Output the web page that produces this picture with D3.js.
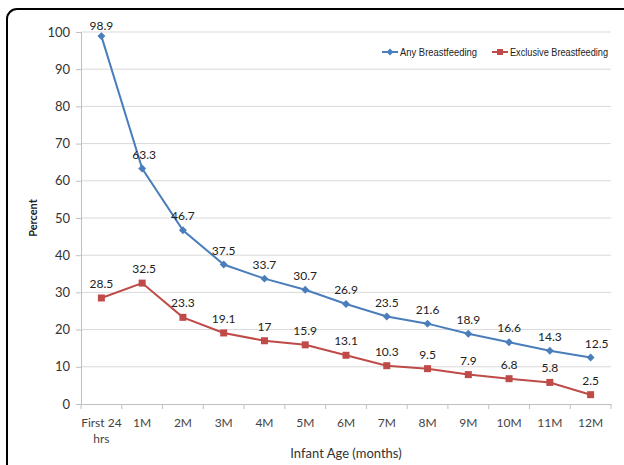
<!DOCTYPE html>
<html><head><meta charset="utf-8">
<script src="https://cdn.jsdelivr.net/npm/d3@7"></script>
<style>body{margin:0;background:#fff}svg{display:block}</style>
</head><body><svg id="c" width="624" height="465"></svg>
<script>
const categories = ["First 24 hrs","1M","2M","3M","4M","5M","6M","7M","8M","9M","10M","11M","12M"];
const anyBF = [98.9,63.3,46.7,37.5,33.7,30.7,26.9,23.5,21.6,18.9,16.6,14.3,12.5];
const exclusiveBF = [28.5,32.5,23.3,19.1,17,15.9,13.1,10.3,9.5,7.9,6.8,5.8,2.5];
const yTicks = [0,10,20,30,40,50,60,70,80,90,100];
const seriesNames = ["Any Breastfeeding","Exclusive Breastfeeding"];

const svg = d3.select("#c");
const font = "Lato, 'Open Sans', sans-serif";
const m = {l:81, r:611, t:32, b:404};
const x = d3.scaleBand().domain(categories).range([m.l, m.r]);
const y = d3.scaleLinear().domain([0,100]).range([m.b, m.t]);

// frame
svg.append("rect").attr("x",7).attr("y",9).attr("width",660).attr("height",500)
  .attr("rx",10).attr("fill","none").attr("stroke","#000").attr("stroke-width",2);

// grid
svg.append("g").selectAll("line").data(yTicks.filter(d=>d>0)).join("line")
  .attr("x1",m.l).attr("x2",m.r).attr("y1",d=>y(d)).attr("y2",d=>y(d))
  .attr("stroke","#d9d9d9").attr("stroke-width",1);

// y axis
const ya = svg.append("g").attr("transform",`translate(${m.l},0)`)
  .call(d3.axisLeft(y).tickValues(yTicks).tickSize(5).tickPadding(6));
ya.select(".domain").attr("stroke","#bfbfbf");
ya.selectAll(".tick line").attr("stroke","#bfbfbf");
ya.selectAll("text").attr("font-family",font).attr("font-size",13).attr("fill","#333");

// x axis
const xa = svg.append("g").attr("transform",`translate(0,${m.b})`)
  .call(d3.axisBottom(x).tickSize(0).tickPadding(14));
xa.select(".domain").attr("stroke","#bfbfbf");
xa.selectAll("text").attr("font-family",font).attr("font-size",12).attr("fill","#444")
  .each(function(d){
    if(d==="First 24 hrs"){
      const t=d3.select(this); t.text(null);
      t.append("tspan").attr("x",0).attr("dy","0.71em").text("First 24");
      t.append("tspan").attr("x",0).attr("dy","1.35em").text("hrs");
    }
  });
// tick marks at band boundaries
const bounds = categories.map(c=>x(c)).concat([x.range()[1]]);
svg.append("g").selectAll("line").data(bounds).join("line")
  .attr("x1",d=>d).attr("x2",d=>d).attr("y1",m.b).attr("y2",m.b+5)
  .attr("stroke","#bfbfbf");

const cx = c => x(c)+x.bandwidth()/2;
const line = d3.line().x((d,i)=>cx(categories[i])).y(d=>y(d));

const colors = ["#4A7EBB","#BE4B48"];
const data = [anyBF, exclusiveBF];
data.forEach((vals,si)=>{
  svg.append("path").datum(vals).attr("d",line).attr("fill","none")
    .attr("stroke",colors[si]).attr("stroke-width",2);
  const g = svg.append("g");
  vals.forEach((v,i)=>{
    const px=cx(categories[i]), py=y(v);
    if(si===0){
      g.append("path").attr("d",d3.symbol(d3.symbolDiamond2,40)())
        .attr("transform",`translate(${px},${py})`).attr("fill",colors[si]);
    } else {
      g.append("rect").attr("x",px-3.5).attr("y",py-3.5).attr("width",7).attr("height",7).attr("fill",colors[si]);
    }
    const off = (si===0 && i===0) ? 6 : 10;
    g.append("text").attr("x",px+ (si===0 && i===12?6:(i===1?2:0))).attr("y",py-off)
      .attr("text-anchor","middle").attr("font-family",font).attr("font-size",12)
      .attr("fill","#222").text(v);
  });
});

// legend
const lg = svg.append("g").attr("font-family","'Liberation Sans', Arial, sans-serif").attr("font-size",10.5).attr("fill","#222");
const lx=[382,492];
const tl=[77,98];
seriesNames.forEach((n,i)=>{
  lg.append("line").attr("x1",lx[i]).attr("x2",lx[i]+16).attr("y1",52).attr("y2",52).attr("stroke",colors[i]).attr("stroke-width",2);
  if(i===0) lg.append("path").attr("d",d3.symbol(d3.symbolDiamond2,30)()).attr("transform",`translate(${lx[i]+8},52)`).attr("fill",colors[i]);
  else lg.append("rect").attr("x",lx[i]+5).attr("y",49).attr("width",6).attr("height",6).attr("fill",colors[i]);
  lg.append("text").attr("x",lx[i]+18).attr("y",55.5).attr("textLength",tl[i]).attr("lengthAdjust","spacingAndGlyphs").text(n);
});

// axis titles
svg.append("text").attr("transform","translate(37,218) rotate(-90)").attr("text-anchor","middle")
  .attr("font-family",font).attr("font-size",11).attr("font-weight","bold").attr("fill","#222").text("Percent");
svg.append("text").attr("x",346).attr("y",458).attr("text-anchor","middle")
  .attr("font-family",font).attr("font-size",13).attr("fill","#333").text("Infant Age (months)");
</script></body></html>
